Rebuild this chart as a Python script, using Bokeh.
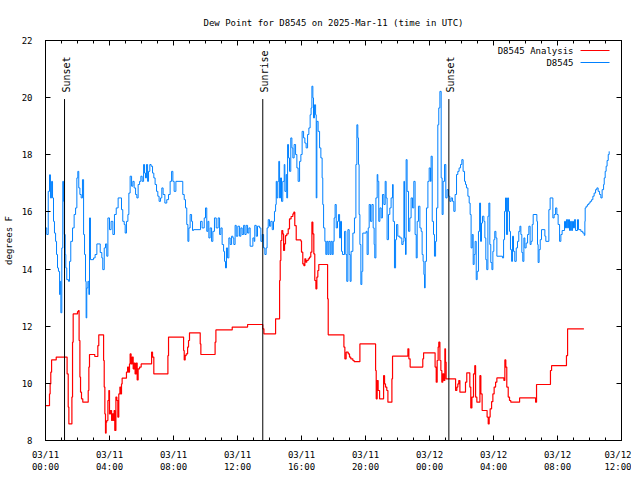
import math
from bokeh.plotting import figure
from bokeh.models import (FixedTicker, LinearAxis, Range1d, ColumnDataSource)
from bokeh.embed import file_html
from bokeh.resources import INLINE
from bokeh.core.properties import value

FONT = "DejaVu Sans Mono"
FS = "9px"

# ---- data: hours since 2025-03-11 00:00 UTC, dew point in degrees F ----
obs_hours = [
    0.0, 0.08, 0.17, 0.25, 0.31, 0.38, 0.44, 0.50, 0.56, 0.63, 0.69, 0.75, 0.81, 0.88, 0.92, 0.96,
    1.02, 1.08, 1.13, 1.17, 1.23, 1.27, 1.33, 1.44, 1.50, 1.58, 1.69, 1.79, 1.88, 1.96, 2.02, 2.08,
    2.15, 2.23, 2.31, 2.38, 2.44, 2.50, 2.54, 2.58, 2.65, 2.71, 2.75, 2.81, 3.00, 3.10, 3.21, 3.42,
    3.52, 3.58, 3.67, 3.75, 3.83, 3.90, 4.00, 4.10, 4.21, 4.31, 4.42, 4.54, 4.75, 4.83, 4.92, 4.98,
    5.06, 5.15, 5.21, 5.29, 5.38, 5.46, 5.54, 5.63, 5.71, 5.79, 5.88, 5.96, 6.04, 6.13, 6.19, 6.25,
    6.31, 6.38, 6.44, 6.52, 6.60, 6.69, 6.77, 6.85, 6.94, 7.02, 7.10, 7.19, 7.27, 7.35, 7.46, 7.58,
    7.69, 7.79, 7.88, 7.96, 8.04, 8.15, 8.58, 8.67, 8.75, 8.83, 8.90, 8.96, 9.04, 9.13, 9.19, 9.25,
    9.69, 9.79, 9.92, 10.00, 10.08, 10.15, 10.21, 10.29, 10.38, 10.46, 10.56, 10.67, 10.79, 10.88,
    10.96, 11.04, 11.13, 11.19, 11.25, 11.31, 11.38, 11.46, 11.54, 11.63, 11.71, 11.77, 11.85,
    11.92, 12.02, 12.13, 12.21, 12.29, 12.38, 12.46, 12.54, 12.63, 12.71, 12.79, 12.96, 13.04,
    13.08, 13.17, 13.25, 13.38, 13.46, 13.54, 13.63, 13.71, 13.79, 13.85, 13.92, 14.00, 14.08,
    14.17, 14.25, 14.31, 14.38, 14.42, 14.46, 14.52, 14.58, 14.63, 14.69, 14.75, 14.83, 14.92,
    14.96, 15.04, 15.08, 15.13, 15.19, 15.25, 15.33, 15.40, 15.46, 15.54, 15.63, 15.71, 15.79,
    15.88, 15.96, 16.04, 16.13, 16.21, 16.29, 16.38, 16.46, 16.54, 16.60, 16.65, 16.71, 16.75,
    16.81, 16.88, 16.92, 16.96, 17.04, 17.13, 17.21, 17.29, 17.33, 17.38, 17.46, 17.52, 17.58,
    17.65, 17.71, 17.79, 17.85, 17.92, 17.98, 18.04, 18.10, 18.17, 18.25, 18.31, 18.38, 18.44,
    18.50, 18.56, 18.69, 18.77, 18.83, 18.90, 18.98, 19.04, 19.10, 19.21, 19.31, 19.40, 19.46,
    19.52, 19.56, 19.60, 19.65, 19.71, 19.77, 19.83, 20.04, 20.10, 20.17, 20.23, 20.31, 20.40,
    20.48, 20.54, 20.58, 20.65, 20.73, 20.77, 20.83, 20.90, 20.98, 21.06, 21.15, 21.23, 21.29,
    21.35, 21.44, 21.52, 21.60, 21.69, 21.73, 21.81, 21.88, 21.94, 22.02, 22.15, 22.27, 22.35,
    22.40, 22.44, 22.50, 22.54, 22.60, 22.69, 22.77, 22.85, 22.94, 23.02, 23.10, 23.17, 23.23,
    23.31, 23.40, 23.48, 23.54, 23.60, 23.65, 23.69, 23.73, 23.81, 23.90, 23.98, 24.06, 24.10,
    24.17, 24.25, 24.31, 24.38, 24.44, 24.52, 24.58, 24.65, 24.73, 24.79, 24.85, 24.94, 25.02,
    25.10, 25.19, 25.27, 25.35, 25.44, 25.52, 25.60, 25.69, 25.77, 25.85, 25.94, 26.02, 26.10,
    26.19, 26.25, 26.31, 26.40, 26.48, 26.54, 26.60, 26.67, 26.73, 26.79, 26.85, 26.92, 26.98,
    27.06, 27.13, 27.19, 27.25, 27.31, 27.40, 27.46, 27.52, 27.58, 27.65, 27.71, 27.77, 27.83,
    27.90, 27.96, 28.02, 28.08, 28.15, 28.21, 28.56, 28.63, 28.69, 28.75, 28.81, 28.88, 28.94,
    29.00, 29.06, 29.13, 29.19, 29.25, 29.33, 29.42, 29.50, 29.58, 29.65, 29.71, 29.77, 29.83,
    29.90, 29.96, 30.04, 30.13, 30.21, 30.29, 30.35, 30.42, 30.48, 30.71, 30.75, 30.79, 30.85,
    30.92, 31.00, 31.21, 31.27, 31.46, 31.54, 31.71, 31.79, 31.88, 31.96, 32.04, 32.13, 32.21,
    32.29, 32.44, 32.50, 32.56, 32.63, 32.69, 32.75, 32.81, 32.88, 32.94, 33.00, 33.06, 33.13,
    33.25, 33.31, 33.46, 33.58, 33.67, 33.71, 33.73, 33.79, 33.88, 33.96, 34.04, 34.13, 34.21,
    34.29, 34.38, 34.46, 34.54, 34.63, 34.71, 34.79, 34.88, 34.92, 34.98, 35.04, 35.10, 35.17,
    35.23,
]
obs_dewpt = [
    15.44, 15.21, 16.72, 17.30, 16.49, 17.07, 16.49, 15.67, 15.26, 14.97, 14.51, 14.04, 13.92, 13.11, 13.57, 12.47,
    14.74, 17.07, 16.37, 15.21, 14.51, 14.04, 13.63, 13.57, 14.27, 14.97, 15.44, 15.91, 16.14, 17.19, 17.42, 16.84,
    16.61, 16.49, 17.13, 15.21, 14.51, 13.57, 12.29, 13.34, 13.57, 13.11, 15.79, 14.33, 14.39, 14.51, 14.88, 14.58,
    14.39, 13.98, 14.74, 14.88, 14.45, 15.79, 15.38, 15.67, 15.21, 15.91, 16.14, 16.49, 16.08, 15.67, 15.56, 15.26,
    15.67, 15.91, 16.66, 17.25, 16.90, 17.07, 16.84, 16.61, 16.49, 16.96, 17.07, 17.25, 17.07, 17.66, 17.36, 17.19,
    17.66, 17.07, 17.42, 17.66, 17.60, 17.36, 17.19, 16.96, 16.72, 16.55, 16.37, 16.49, 16.84, 16.61, 16.31, 16.43,
    16.61, 17.07, 17.42, 17.07, 16.72, 17.07, 16.61, 16.43, 16.14, 15.56, 14.97, 15.44, 15.91, 15.67, 15.35, 15.38,
    15.67, 15.44, 15.79, 16.14, 15.32, 15.67, 15.09, 15.44, 14.97, 15.32, 15.79, 15.44, 15.79, 15.21,
    15.44, 14.86, 14.62, 14.27, 14.04, 14.74, 14.39, 15.09, 14.86, 15.15, 15.09, 14.86, 15.53,
    15.15, 15.50, 15.15, 15.44, 15.21, 15.53, 15.21, 15.53, 15.26, 15.44, 14.80, 15.09, 14.97,
    15.53, 15.15, 15.50, 15.44, 14.97, 15.21, 14.74, 14.51, 14.74, 15.44, 15.73, 15.50, 15.67,
    15.38, 15.67, 16.02, 16.26, 17.07, 16.49, 17.07, 17.77, 16.49, 17.19, 16.37, 17.07, 17.66,
    16.72, 17.31, 16.49, 18.36, 17.89, 17.42, 18.59, 18.24, 17.89, 18.36, 18.01, 17.54, 17.07,
    17.77, 18.01, 18.82, 18.59, 18.41, 18.24, 18.71, 18.94, 19.40, 19.64, 20.40, 19.99, 19.29,
    19.75, 19.40, 16.49, 19.17, 18.82, 18.24, 17.89, 17.19, 16.26, 15.44, 14.97, 14.51, 14.97,
    14.51, 14.97, 14.51, 14.97, 14.51, 14.97, 15.79, 16.26, 15.44, 15.67, 15.91, 15.09, 15.67,
    14.62, 14.51, 15.32, 14.51, 13.57, 15.38, 14.51, 13.57, 14.62, 15.26, 15.79, 17.66, 19.05,
    18.59, 17.66, 15.91, 14.86, 13.46, 13.92, 15.26, 15.32, 14.51, 15.44, 16.26, 15.67, 16.26,
    15.44, 14.86, 14.39, 16.49, 17.31, 17.07, 15.67, 16.14, 15.79, 16.61, 16.26, 17.07, 16.49,
    15.03, 15.91, 16.14, 16.49, 16.96, 15.67, 14.04, 15.03, 15.56, 15.15, 15.09, 14.86, 14.97,
    17.07, 15.09, 14.51, 17.83, 16.72, 15.32, 15.79, 16.49, 16.14, 17.07, 15.21, 14.39, 15.67,
    16.20, 15.44, 15.32, 14.51, 14.27, 13.81, 13.34, 14.27, 16.14, 17.07, 17.54, 17.07, 17.95,
    15.67, 15.21, 14.45, 14.97, 16.14, 19.05, 19.64, 20.22, 17.19, 15.91, 17.07, 17.66, 16.49,
    16.78, 16.55, 16.37, 16.49, 16.37, 16.02, 16.61, 17.31, 17.42, 17.54, 17.66, 17.83, 17.42,
    17.07, 16.96, 16.84, 16.55, 16.31, 15.91, 14.74, 15.21, 14.16, 14.51, 14.97, 13.63, 13.92,
    15.32, 16.31, 14.97, 15.61, 15.85, 15.67, 15.09, 14.33, 13.98, 15.85, 16.31, 14.86, 14.23,
    13.98, 14.62, 15.03, 15.32, 15.09, 14.45, 14.39, 15.03, 16.02, 16.49, 15.21, 16.49, 16.02,
    15.32, 14.68, 14.27, 15.15, 14.62, 14.27, 14.74, 14.97, 15.32, 15.50, 15.21, 14.58, 14.27,
    15.09, 14.74, 14.91, 15.21, 15.50, 14.86, 14.97, 15.56, 15.91, 15.67, 14.86, 14.23, 14.68,
    15.03, 15.38, 15.15, 14.97, 16.08, 16.49, 15.79, 15.91, 16.14, 15.91, 15.56, 14.97, 15.21,
    15.35, 15.67, 15.44, 15.73, 15.44, 15.73, 15.35, 15.67, 15.35, 15.67, 15.44, 15.73, 15.35,
    15.73, 15.38, 15.32, 15.26, 15.18, 15.67, 16.14, 16.20, 16.26, 16.31, 16.37, 16.43, 16.55,
    16.66, 16.78, 16.84, 16.72, 16.61, 16.49, 16.78, 16.96, 17.19, 17.42, 17.60, 17.80, 18.01,
    18.12,
]

ana_hours = [
    0.00, 0.25, 0.29, 0.33, 0.38, 0.67, 1.35, 1.42, 1.46, 1.65, 1.69, 1.73, 2.00, 2.06, 2.10, 2.15,
    2.19, 2.25, 2.33, 2.67, 2.71, 2.75, 3.08, 3.27, 3.33, 3.63, 3.67, 3.71, 3.75, 3.79, 3.83, 3.90,
    3.96, 4.00, 4.06, 4.13, 4.19, 4.25, 4.29, 4.33, 4.40, 4.46, 4.52, 4.58, 4.65, 4.69, 4.75, 4.79,
    5.06, 5.13, 5.19, 5.25, 5.29, 5.35, 5.42, 5.48, 5.54, 5.60, 5.67, 5.73, 5.79, 5.88, 5.98, 6.63,
    6.69, 6.77, 7.65, 7.69, 8.63, 8.67, 8.73, 8.79, 8.88, 8.94, 9.00, 9.67, 9.71, 10.60, 10.65,
    11.67, 12.63, 13.58, 13.65, 14.38, 14.63, 14.67, 14.71, 14.77, 14.83, 14.88, 14.94, 15.00,
    15.08, 15.17, 15.25, 15.35, 15.46, 15.52, 15.58, 15.67, 15.96, 16.00, 16.08, 16.15, 16.21,
    16.27, 16.33, 16.42, 16.50, 16.58, 16.65, 16.71, 16.77, 16.83, 16.90, 16.96, 17.02, 17.08,
    17.63, 17.67, 18.65, 18.71, 18.79, 18.92, 19.00, 19.08, 19.21, 19.29, 19.65, 20.63, 20.67,
    20.73, 20.79, 20.88, 21.13, 21.19, 21.25, 21.33, 21.40, 21.65, 21.69, 22.65, 22.71, 22.79,
    23.58, 23.63, 24.35, 24.42, 24.48, 24.54, 24.58, 24.65, 24.71, 24.77, 24.83, 24.90, 24.96,
    25.00, 25.04, 25.63, 25.71, 25.77, 25.83, 25.90, 26.25, 26.33, 26.52, 26.58, 26.65, 26.75,
    26.83, 26.88, 26.96, 27.15, 27.21, 27.29, 27.60, 27.67, 27.73, 27.79, 27.88, 27.96, 28.04,
    28.13, 28.21, 28.65, 28.71, 28.77, 28.83, 28.92, 29.00, 29.08, 29.63, 30.63, 30.69, 31.56,
    31.63, 32.56, 32.63, 33.65,
]
ana_dewpt = [
    9.22, 9.63, 9.98, 10.39, 10.82, 10.92, 10.33, 9.17, 8.58, 9.52, 11.44, 12.43, 12.51, 12.55, 11.50, 10.22,
    9.69, 9.46, 9.34, 9.75, 10.57, 11.01, 10.94, 11.32, 11.70, 10.80, 9.87, 8.93, 8.26, 8.64, 8.70, 9.40,
    9.75, 8.93, 9.05, 8.70, 8.93, 8.70, 9.05, 8.35, 9.52, 9.40, 8.82, 9.63, 9.87, 9.63, 9.98, 10.18,
    10.39, 10.57, 10.39, 10.68, 11.03, 10.68, 10.92, 10.51, 10.71, 10.33, 10.71, 10.12, 10.51, 10.57, 10.68, 11.09,
    10.92, 10.33, 10.97, 11.62, 11.15, 10.82, 10.97, 11.03, 11.27, 11.50, 11.77, 11.38, 11.01, 11.44, 11.87,
    11.97, 12.06, 11.91, 11.73, 12.26, 13.60, 14.30, 15.00, 15.35, 15.23, 14.65, 14.88, 15.17,
    15.23, 15.41, 15.76, 15.84, 15.93, 15.99, 15.52, 15.02, 14.98, 14.59, 14.18, 14.12, 14.36,
    14.24, 14.30, 14.36, 14.42, 14.59, 15.64, 15.23, 14.53, 13.60, 13.31, 13.72, 13.95, 14.16,
    12.96, 11.70, 11.27, 10.86, 11.09, 11.03, 10.92, 10.86, 10.80, 10.76, 11.38, 10.45, 9.46,
    10.10, 9.75, 9.46, 10.27, 9.98, 9.87, 9.75, 9.34, 10.16, 10.95, 11.21, 10.86, 10.57,
    10.86, 11.07, 10.57, 10.04, 10.80, 11.27, 11.44, 10.80, 10.45, 10.04, 10.33, 10.10, 11.21,
    10.74, 10.16, 9.75, 9.87, 9.98, 10.10, 9.69, 10.04, 10.37, 9.87, 9.14, 9.52, 10.33,
    10.62, 9.52, 9.34, 10.27, 9.63, 9.05, 8.82, 8.58, 8.82, 9.11, 9.36, 9.63, 9.87,
    10.04, 10.19, 10.10, 10.82, 10.57, 9.87, 9.52, 9.40, 9.34, 9.49, 9.34, 9.96, 10.45,
    10.62, 10.97, 11.91, 11.91,
]

event_hours = [1.19, 13.58, 25.21]
event_names = ["Sunset", "Sunrise", "Sunset"]

series_names = ["D8545 Analysis", "D8545"]
series_colors = ["#ff0000", "#0080ff"]
series_widths = [1.2, 1.0]

x_tick_hours = [0, 4, 8, 12, 16, 20, 24, 28, 32, 36]
x_tick_labels = ["03/11\n00:00", "03/11\n04:00", "03/11\n08:00", "03/11\n12:00", "03/11\n16:00",
                 "03/11\n20:00", "03/12\n00:00", "03/12\n04:00", "03/12\n08:00", "03/12\n12:00"]
x_minor_hours = list(range(0, 37))
y_ticks = [8, 10, 12, 14, 16, 18, 20, 22]

# key placement (gnuplot style: label right-aligned, sample line to its right)
KEY_TEXT_X = 33.0
KEY_LINE_X0, KEY_LINE_X1 = 33.44, 35.25
KEY_ROWS_Y = [21.65, 21.23]

p = figure(frame_width=576, frame_height=400,
           x_range=Range1d(0, 36), y_range=Range1d(8, 22),
           output_backend="svg", toolbar_location=None,
           min_border_left=38, min_border_right=10, min_border_top=40, min_border_bottom=20,
           title="Dew Point for D8545 on 2025-Mar-11 (time in UTC)")
p.xgrid.visible = False
p.ygrid.visible = False
p.outline_line_color = "black"
p.outline_line_width = 1
p.background_fill_color = "white"
p.border_fill_color = "white"

p.title.text_font = FONT
p.title.text_font_size = FS
p.title.text_font_style = "normal"
p.title.align = "center"
p.title.text_color = "black"
p.title.standoff = 25


def style_axis(ax, ticks, minor):
    ax.ticker = FixedTicker(ticks=ticks, minor_ticks=minor)
    ax.major_tick_in = 5
    ax.major_tick_out = 0
    ax.minor_tick_in = 3
    ax.minor_tick_out = 0
    ax.axis_line_color = "black"
    ax.major_tick_line_color = "black"
    ax.minor_tick_line_color = "black"
    ax.major_label_text_font = FONT
    ax.major_label_text_font_size = FS
    ax.major_label_text_color = "black"


xa = p.xaxis[0]
style_axis(xa, x_tick_hours, x_minor_hours)
xa.major_label_overrides = dict(zip(x_tick_hours, x_tick_labels))
xa.major_label_standoff = 9

ya = p.yaxis[0]
style_axis(ya, y_ticks, [])
ya.major_label_standoff = 13
ya.axis_label = "degrees F"
ya.axis_label_text_font = FONT
ya.axis_label_text_font_size = FS
ya.axis_label_text_font_style = "normal"
ya.axis_label_text_color = "black"
ya.axis_label_standoff = 5

top = LinearAxis()
style_axis(top, x_tick_hours, x_minor_hours)
top.major_label_overrides = {t: "" for t in x_tick_hours}
top.major_label_standoff = 0
p.add_layout(top, "above")

right = LinearAxis()
style_axis(right, y_ticks, [])
right.major_label_overrides = {t: "" for t in y_ticks}
right.major_label_standoff = 0
p.add_layout(right, "right")

p.step(ana_hours, ana_dewpt, mode="after", line_color=series_colors[0], line_width=series_widths[0])
p.step(obs_hours, obs_dewpt, mode="after", line_color=series_colors[1], line_width=series_widths[1])

ev = ColumnDataSource(dict(h=event_hours, name=event_names))
p.segment(x0="h", y0=8, x1="h", y1=19.95, source=ev, line_color="black", line_width=1)
p.text(x="h", y=20.18, text="name", source=ev, angle=math.pi / 2,
       text_align="left", text_baseline="middle", x_offset=2,
       text_font=value(FONT), text_font_size=value("10px"), text_color="black")

# key
key = ColumnDataSource(dict(name=series_names, color=series_colors, width=series_widths,
                            y=KEY_ROWS_Y))
p.text(x=KEY_TEXT_X, y="y", text="name", source=key, text_align="right",
       text_baseline="middle", text_font=value(FONT), text_font_size=value(FS),
       text_color="black")
p.segment(x0=KEY_LINE_X0, y0="y", x1=KEY_LINE_X1, y1="y", source=key,
          line_color="color", line_width="width")

open("out.html", "w").write(file_html(p, INLINE))
